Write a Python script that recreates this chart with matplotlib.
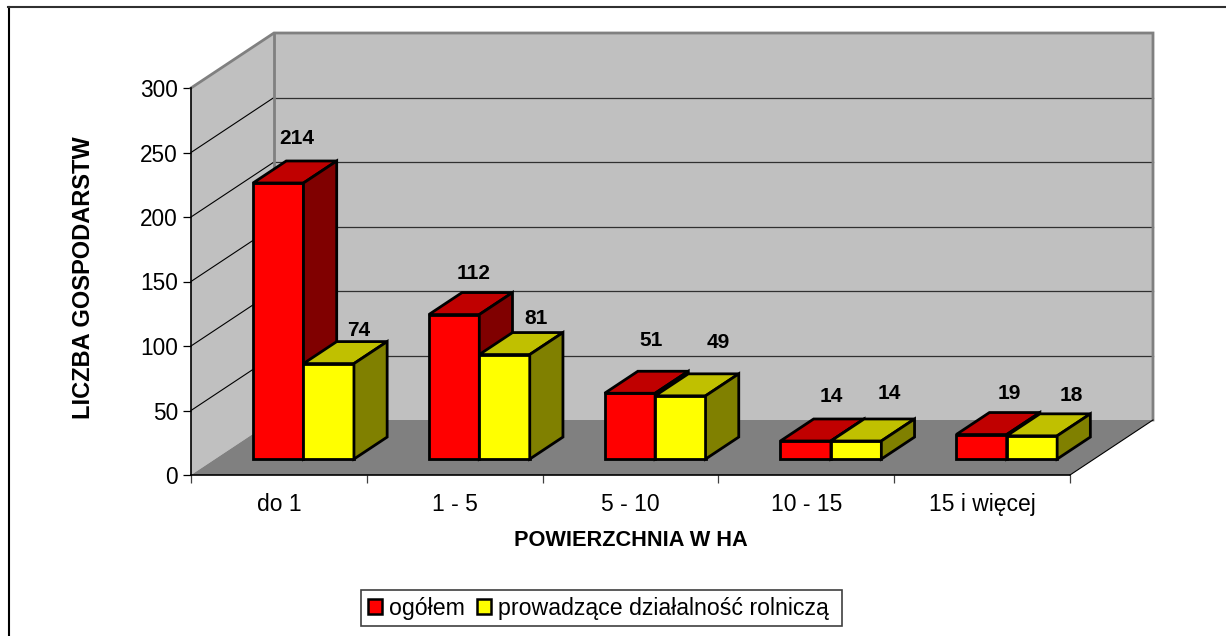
import matplotlib
matplotlib.use("Agg")
import matplotlib.pyplot as plt
from matplotlib.lines import Line2D
from matplotlib.patches import Patch, Polygon, Rectangle

plt.rcParams["font.family"] = ["Liberation Sans", "DejaVu Sans"]

categories = ["do 1", "1 - 5", "5 - 10", "10 - 15", "15 i więcej"]
ogolem = [214, 112, 51, 14, 19]
rolnicze = [74, 81, 49, 14, 18]
y_ticks = [0, 50, 100, 150, 200, 250, 300]

W, H = 1226, 636
LEFT, RIGHT, FLOOR, TOP = 191, 1070, 475, 88

# przesuniecie glebi w jednostkach osi (83 px w prawo, 55 px w gore)
DX = 83 / ((RIGHT - LEFT) / 5)
DY = 55 / ((FLOOR - TOP) / 300)
D0, D1 = 0.29, 0.69
BAR_W = 0.287
GAP = 0.216

# przesuniecia etykiet w pikselach wzgledem srodka gornej sciany slupka
off_ogolem = [(2, 33), (3, 30), (5, 42), (9, 33), (11, 30)]
off_rolnicze = [(13, 22), (15, 25), (21, 42), (17, 36), (23, 29)]


def pt(x, v, d):
    return (x + d * DX, v + d * DY)


def face(ax, pts, color, z, lw=2.0, edge="black"):
    ax.add_patch(Polygon(pts, closed=True, facecolor=color, edgecolor=edge, linewidth=lw,
                         joinstyle="miter", clip_on=False, zorder=z))


def bar3d(ax, x, value, colors, z):
    x2 = x + BAR_W
    face(ax, [pt(x, 0, D0), pt(x2, 0, D0), pt(x2, value, D0), pt(x, value, D0)], colors[0], z)
    face(ax, [pt(x, value, D0), pt(x2, value, D0), pt(x2, value, D1), pt(x, value, D1)], colors[1], z)
    face(ax, [pt(x2, 0, D0), pt(x2, 0, D1), pt(x2, value, D1), pt(x2, value, D0)], colors[2], z)


fig = plt.figure(figsize=(W / 100, H / 100), dpi=100, facecolor="white")
ax = fig.add_axes([LEFT / W, 1 - FLOOR / H, (RIGHT - LEFT) / W, (FLOOR - TOP) / H])
ax.patch.set_visible(False)
ax.set_xlim(0, 5)
ax.set_ylim(0, 300)

# ramka wykresu
fig.add_artist(Line2D([8.5 / W, 8.5 / W], [0, 1 - 7 / H], color="black", lw=1.5))
fig.add_artist(Line2D([8 / W, 1], [1 - 7 / H, 1 - 7 / H], color="#303030", lw=1.5))

# sciany i podloga
face(ax, [pt(0, 0, 0), pt(0, 0, 1), pt(0, 300, 1), pt(0, 300, 0)], "#C0C0C0", 1, 0, "none")
face(ax, [pt(0, 0, 1), pt(5, 0, 1), pt(5, 300, 1), pt(0, 300, 1)], "#C0C0C0", 1, 0, "none")
face(ax, [pt(0, 0, 0), pt(5, 0, 0), pt(5, 0, 1), pt(0, 0, 1)], "#808080", 1.5, 0, "none")

for v in y_ticks[1:-1]:
    a, b, c = pt(0, v, 0), pt(0, v, 1), pt(5, v, 1)
    ax.plot([a[0], b[0]], [a[1], b[1]], color="black", lw=0.8, clip_on=False, zorder=2)
    ax.plot([b[0], c[0]], [b[1], c[1]], color="#303030", lw=0.9, clip_on=False, zorder=2)

# krawedzie scian
a, b, c, d = pt(0, 300, 0), pt(0, 300, 1), pt(5, 300, 1), pt(5, 0, 1)
ax.plot([a[0], b[0], c[0], d[0]], [a[1], b[1], c[1], d[1]], color="#808080", lw=2,
        clip_on=False, zorder=2, solid_joinstyle="miter")
a, b = pt(0, 0, 1), pt(0, 300, 1)
ax.plot([a[0], b[0]], [a[1], b[1]], color="#808080", lw=2, clip_on=False, zorder=2)
a, b = pt(5, 0, 0), pt(5, 0, 1)
ax.plot([a[0], b[0]], [a[1], b[1]], color="black", lw=0.8, clip_on=False, zorder=2)

red = ["#FF0000", "#C00000", "#800000"]
yellow = ["#FFFF00", "#C0C000", "#808000"]

for i in range(len(categories)):
    x = i + GAP
    bar3d(ax, x, ogolem[i], red, 3 + i)
    bar3d(ax, x + BAR_W, rolnicze[i], yellow, 3.5 + i)
    for xx, v, off in [(x, ogolem[i], off_ogolem[i]), (x + BAR_W, rolnicze[i], off_rolnicze[i])]:
        ax.annotate(str(v), pt(xx + BAR_W / 2, v, (D0 + D1) / 2), xytext=off,
                    textcoords="offset pixels", ha="center", va="center",
                    fontsize=15, fontweight="bold", zorder=20, annotation_clip=False)

for s in ["top", "right"]:
    ax.spines[s].set_visible(False)
for s in ["left", "bottom"]:
    ax.spines[s].set_linewidth(1.2)
    ax.spines[s].set_zorder(10)

ax.set_yticks(y_ticks)
ax.tick_params(axis="y", length=5.8, width=0.9, labelsize=16.3, pad=3.5)
ax.set_xticks(range(6))
ax.set_xticklabels([])
ax.set_xticks([i + 0.5 for i in range(5)], minor=True)
ax.set_xticklabels(categories, minor=True)
ax.tick_params(axis="x", which="major", length=5.8, width=0.9, color="#404040")
ax.tick_params(axis="x", which="minor", length=0, labelsize=16.5, pad=13)

fig.text(83 / W, 1 - 277.5 / H, "LICZBA GOSPODARSTW", rotation=90, ha="center", va="center",
         fontsize=17, fontweight="bold")
fig.text(631 / W, 1 - 540 / H, "POWIERZCHNIA W HA", ha="center", va="center",
         fontsize=15.7, fontweight="bold")

# ramka legendy osobno, bo legend() nie daje roznych marginesow
fig.add_artist(Rectangle((361 / W, 1 - 626 / H), 481 / W, 36 / H, transform=fig.transFigure,
                         facecolor="white", edgecolor="#404040", linewidth=1.2))
handles = [Patch(facecolor="#FF0000", edgecolor="black", linewidth=1.8),
           Patch(facecolor="#FFFF00", edgecolor="black", linewidth=1.8)]
fig.legend(handles, ["ogółem", "prowadzące działalność rolniczą"], loc="center",
           bbox_to_anchor=(598.5 / W, 1 - 608 / H), ncol=2, fontsize=16.7, frameon=False,
           handlelength=0.62, handleheight=0.62,
           handletextpad=0.3, columnspacing=0.5, borderpad=0.25, borderaxespad=0)

fig.savefig("out.png", dpi=100)
